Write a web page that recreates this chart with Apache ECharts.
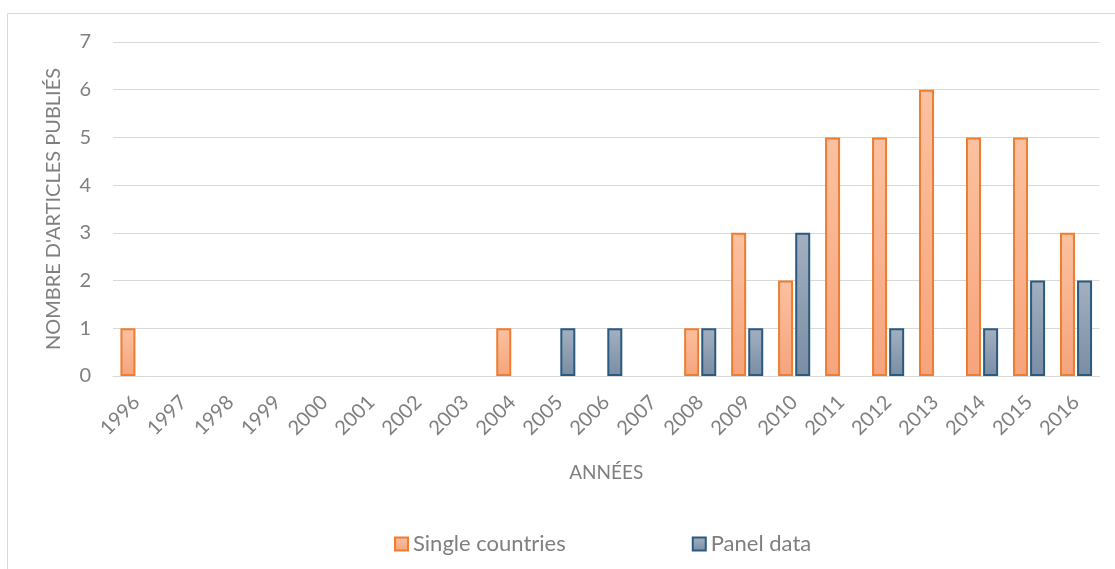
<!DOCTYPE html>
<html><head><meta charset="utf-8">
<script src="https://cdn.jsdelivr.net/npm/echarts@6/dist/echarts.min.js"></script>
<style>html,body{margin:0;padding:0;background:#fff}#c{width:1115px;height:569px}</style>
</head><body><div id="c"></div>
<script>
const years = ['1996','1997','1998','1999','2000','2001','2002','2003','2004','2005','2006','2007','2008','2009','2010','2011','2012','2013','2014','2015','2016'];
const singleCountries = [1,0,0,0,0,0,0,0,1,0,0,0,1,3,2,5,5,6,5,5,3];
const panelData      = [0,0,0,0,0,0,0,0,0,1,1,0,1,1,3,0,1,0,1,2,2];
const yTicks = [0,1,2,3,4,5,6,7];
const FONT = 'Lato, "Open Sans", sans-serif';
const hideZero = arr => arr.map(v => v === 0 ? '-' : v);
const chart = echarts.init(document.getElementById('c'));
const grad = (a,b)=>new echarts.graphic.LinearGradient(0,0,0,1,[{offset:0,color:a},{offset:1,color:b}]);
chart.setOption({
  animation:false,
  textStyle:{fontFamily:FONT},
  graphic:[{type:'rect',shape:{x:7.5,y:13.5,width:1120,height:600},style:{fill:'none',stroke:'#d9d9d9',lineWidth:1},silent:true,z:-1}],
  grid:{left:113,right:15.5,top:42,bottom:193,containLabel:false},
  legend:{bottom:9,left:389,itemGap:126,itemWidth:13,itemHeight:13,icon:'rect',
    textStyle:{color:'#7f7f7f',fontSize:22,fontFamily:FONT},
    data:['Single countries','Panel data']},
  xAxis:{type:'category',data:years,
    name:'ANNÉES',nameLocation:'middle',nameGap:87,
    nameTextStyle:{color:'#7f7f7f',fontSize:19,fontFamily:FONT},
    axisLine:{lineStyle:{color:'#d9d9d9',width:1}},axisTick:{show:false},
    axisLabel:{rotate:45,color:'#7f7f7f',fontSize:20,margin:23,fontFamily:FONT,interval:0}},
  yAxis:{type:'value',min:0,max:7,interval:1,
    name:"NOMBRE D'ARTICLES PUBLIÉS",nameLocation:'middle',nameGap:49,
    nameTextStyle:{color:'#7f7f7f',fontSize:20,fontFamily:FONT},
    axisLine:{show:false},axisTick:{show:false},
    axisLabel:{color:'#7f7f7f',fontSize:20,margin:22,fontFamily:FONT,
      formatter:v=>yTicks.includes(v)?String(v):''},
    splitLine:{lineStyle:{color:'#d9d9d9',width:1}}},
  series:[
    {name:'Single countries',type:'bar',data:hideZero(singleCountries),barWidth:15,barGap:'14%',
      itemStyle:{color:grad('#fbc1a0','#f6a47c'),borderColor:'#ed7d31',borderWidth:2}},
    {name:'Panel data',type:'bar',data:hideZero(panelData),barWidth:15,
      itemStyle:{color:grad('#a3b0c0','#7a8da4'),borderColor:'#2a5a80',borderWidth:2}}
  ]
});
</script></body></html>
